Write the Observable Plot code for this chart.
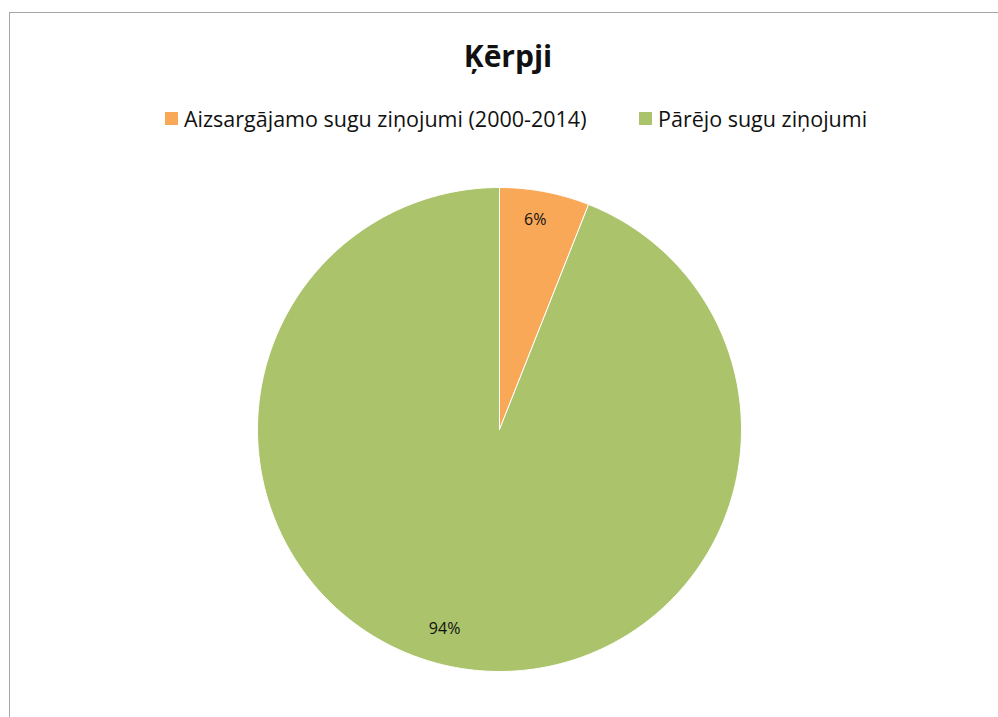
<!DOCTYPE html>
<html>
<head>
<meta charset="utf-8">
<script src="https://cdn.jsdelivr.net/npm/d3@7"></script>
<script src="https://cdn.jsdelivr.net/npm/@observablehq/plot@0.6"></script>
<style>
  html, body { margin: 0; padding: 0; background: #fff; width: 998px; height: 717px; overflow: hidden; }
  #frame { position: absolute; left: 9px; top: 12px; width: 1100px; height: 800px; border-left: 1.5px solid #a6a6a6; border-top: 1.5px solid #a6a6a6; }
  #title { position: absolute; left: 18px; top: 35px; width: 980px; text-align: center; font: bold 30px "Open Sans", sans-serif; line-height: normal; color: #111; }
  #legend { position: absolute; left: 0; top: 0; width: 998px; font: 21.5px "Open Sans", sans-serif; color: #111; }
  .item { position: absolute; top: 104px; white-space: nowrap; line-height: normal; }
  .sw { position: absolute; top: 112px; width: 13px; height: 13px; }
  #chart { position: absolute; left: 256px; top: 186px; }
</style>
</head>
<body>
<div id="frame"></div>
<div id="title">Ķērpji</div>
<div id="legend"></div>
<div id="chart"></div>
<script>
const categories = ["Aizsargājamo sugu ziņojumi (2000-2014)", "Pārējo sugu ziņojumi"];
const values = [6, 94];
const labels = ["6%", "94%"];
const colors = ["#F9A857", "#ABC46B"];

// legend
const legend = document.getElementById("legend");
const legendX = [165, 639];
categories.forEach((c, i) => {
  const s = document.createElement("div");
  s.className = "sw";
  s.style.left = legendX[i] + "px";
  s.style.background = colors[i];
  legend.appendChild(s);
  const d = document.createElement("div");
  d.className = "item";
  d.style.left = (legendX[i] + 19) + "px";
  d.textContent = c;
  legend.appendChild(d);
});

// pie geometry from data (angle clockwise from 12 o'clock)
const pie = d3.pie().sort(null).value(d => d)(values);
const pts = [];
pie.forEach((p, i) => {
  const n = Math.max(2, Math.ceil((p.endAngle - p.startAngle) / 0.01));
  pts.push({cat: categories[i], x: 0, y: 0});
  for (let k = 0; k <= n; k++) {
    const a = p.startAngle + (p.endAngle - p.startAngle) * k / n;
    pts.push({cat: categories[i], x: Math.sin(a), y: Math.cos(a)});
  }
  pts.push({cat: categories[i], x: 0, y: 0});
});
const labelOffset = [-0.02, 0.08];
const labelRadius = [0.88, 0.855];
const labelData = pie.map((p, i) => {
  const a = (p.startAngle + p.endAngle) / 2 + labelOffset[i];
  const r = labelRadius[i];
  return {label: labels[i], x: r * Math.sin(a), y: r * Math.cos(a)};
});

const plot = Plot.plot({
  width: 486, height: 486,
  margin: 1,
  x: {domain: [-1, 1], axis: null},
  y: {domain: [-1, 1], axis: null},
  color: {domain: categories, range: colors},
  marks: [
    Plot.line(pts, {x: "x", y: "y", z: "cat", fill: "cat", stroke: "white", strokeWidth: 1, curve: "linear"}),
    Plot.text(labelData, {x: "x", y: "y", text: "label", fontSize: 16, fill: "#111", fontFamily: "'Open Sans', sans-serif"})
  ]
});
document.getElementById("chart").appendChild(plot);
</script>
</body>
</html>
